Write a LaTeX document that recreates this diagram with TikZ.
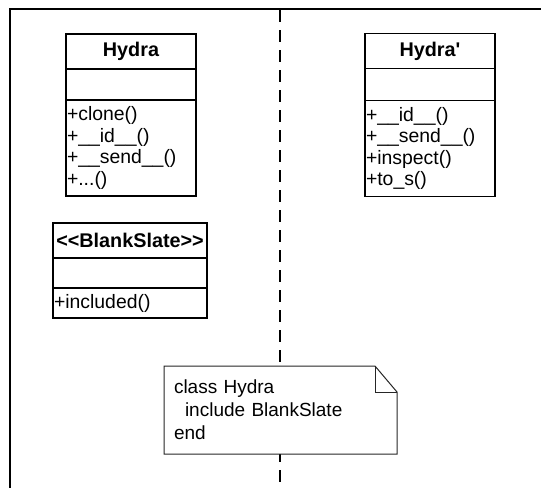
\documentclass[tikz,border=0pt]{standalone}
\usepackage{fontspec}
\setmainfont{Liberation Sans}
\usepackage{tikz}
\usetikzlibrary{positioning}

\begin{document}
\begin{tikzpicture}[x=1pt, y=-1pt,
  umlbox/.style={draw, line width=1.2pt, outer sep=0pt, minimum width=130pt, inner sep=1pt},
  classhead/.style={umlbox, minimum height=35pt, font=\fontsize{19.8}{21.5}\selectfont\bfseries},
  classattr/.style={umlbox, minimum height=31pt},
  classops/.style={umlbox, align=left, text width=128pt, font=\fontsize{19.4}{21.5}\selectfont},
  notebox/.style={fill=white, outer sep=0pt, inner xsep=10pt, minimum height=88pt,
    text width=213pt, align=left, font=\fontsize{19}{23}\selectfont}]
\useasboundingbox (0,0) rectangle (541,488);

% frame and divider
\draw[line width=1.6pt] (541,9) -- (10,9) -- (10,488);
\draw[line width=1.4pt, dash pattern=on 12pt off 8pt] (280,10) -- (280,488);

% Hydra
\node[classhead] (H1) at (131,51.5) {Hydra};
\node[classattr, below=0pt of H1] (H2) {};
\node[classops, below=0pt of H2, minimum height=96pt] (H3)
  {+clone()\\+\_\_id\_\_()\\+\_\_send\_\_()\\+...()};

% BlankSlate
\node[classhead, minimum width=154pt] (B1) at (130,240.5)
  {<\kern0pt<BlankSlate>\kern0pt>};
\node[classattr, minimum width=154pt, minimum height=30pt, below=0pt of B1] (B2) {};
\node[classops, text width=152pt, minimum height=30pt, below=0pt of B2] (B3) {+included()};

% Hydra'
\node[classhead] (P1) at (430,51) {Hydra\textquotesingle};
\node[classattr, minimum height=32pt, below=0pt of P1] (P2) {};
\node[classops, below=0pt of P2, minimum height=96pt] (P3)
  {+\_\_id\_\_()\\+\_\_send\_\_()\\+inspect()\\+to\_s()};

% note
\node[notebox] (N) at (280.5,410)
  {class Hydra\\\hspace*{11pt}include BlankSlate\\end};
\draw[line width=1pt, black!85] (N.north west) -- ([xshift=-22pt]N.north east)
  -- ([yshift=-26pt]N.north east) -- (N.south east) -- (N.south west) -- cycle;
\draw[line width=1pt, black!85] ([xshift=-22pt]N.north east) |- ([yshift=-26pt]N.north east);
\end{tikzpicture}
\end{document}
